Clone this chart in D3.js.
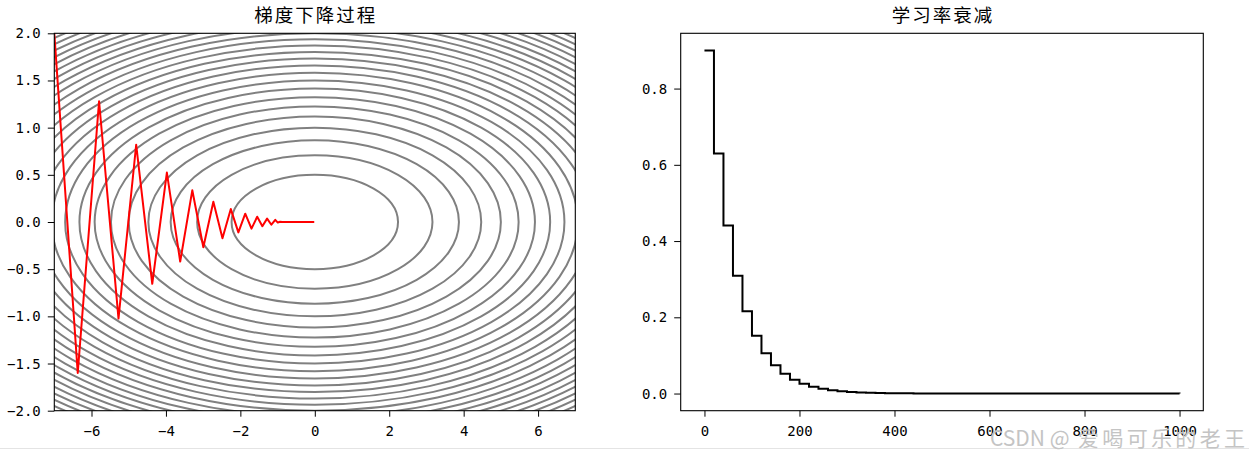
<!DOCTYPE html>
<html><head><meta charset="utf-8">
<script src="https://cdn.jsdelivr.net/npm/d3@7"></script>
<style>body{margin:0;background:#fff}</style></head>
<body><svg id="c" width="1249" height="460"></svg>
<script>
// ---- data ----
const titles = ["梯度下降过程", "学习率衰减"];
// contour levels of f(x,y) = 0.05*x^2 + 1*y^2
const contourLevels = [0.25,0.5,0.75,1.0,1.25,1.5,1.75,2.0,2.25,2.5,2.75,3.0,3.25,3.5,3.75,4.0,4.25,4.5,4.75,5.0,5.25,5.5,5.75,6.0,6.25];
const contourCoefX = 0.05, contourCoefY = 1;
const trajX = [-7,-6.37,-5.797,-5.275,-4.800,-4.368,-3.975,-3.617,-3.292,-2.995,-2.726,-2.481,-2.257,-2.054,-1.869,-1.701,-1.548,-1.409,-1.282,-1.167,-1.062,-0.995,-0.932,-0.873,-0.289,-0.117,-0.063,-0.040,-0.015];
const trajY = [2,-1.6,1.28,-1.024,0.819,-0.655,0.524,-0.419,0.336,-0.268,0.215,-0.172,0.137,-0.110,0.088,-0.070,0.056,-0.045,0.036,-0.029,0.023,-0.006,0.002,0,0,0,0,0,0];
const leftXTicks = [-6,-4,-2,0,2,4,6];
const leftYTicks = [-2,-1.5,-1,-0.5,0,0.5,1,1.5,2];
const lrSteps = [0,20,40,60,80,100,120,140,160,180,200,220,240,260,280,300,320,340,360,380,400,420,440,460,480,1000];
const lrValues = [0.9,0.63,0.441,0.3087,0.2161,0.1513,0.1059,0.0741,0.0519,0.0363,0.0254,0.0178,0.0125,0.0087,0.0061,0.0043,0.0030,0.0021,0.0015,0.0010,0.0007,0.0005,0.0004,0.0002,0.0002,0.0];
const rightXTicks = [0,200,400,600,800,1000];
const rightYTicks = [0,0.2,0.4,0.6,0.8];
const watermark = ["CSDN @", "爱喝可乐的老王"];

// ---- layout ----
const svg = d3.select("#c");
const L = {x0:54.3, x1:575.3, y0:33.3, y1:410.7};
const R = {x0:680.7, x1:1203.3, y0:33.3, y1:410.7};
const tickFont = "'DejaVu Sans Mono', monospace";
const cjkFont = "'Noto Sans CJK SC', sans-serif";

function styleAxis(g){
  g.select(".domain").remove();
  g.selectAll("line").attr("stroke","#000").attr("stroke-width",1);
  g.selectAll("text").attr("font-family",tickFont).attr("font-size",14).attr("fill","#000");
}
function frame(b){
  svg.append("rect").attr("x",b.x0).attr("y",b.y0).attr("width",b.x1-b.x0).attr("height",b.y1-b.y0)
    .attr("fill","none").attr("stroke","#000").attr("stroke-width",1.1);
}
function title(b,t){
  svg.append("text").attr("x",(b.x0+b.x1)/2+1).attr("y",22).attr("text-anchor","middle")
    .attr("font-family",cjkFont).attr("font-size",18.5).attr("letter-spacing",2).attr("fill","#000").text(t);
}

// ---- left chart ----
const xL = d3.scaleLinear().domain([-7,7]).range([L.x0,L.x1]);
const yL = d3.scaleLinear().domain([-2,2]).range([L.y1,L.y0]);
svg.append("clipPath").attr("id","clipL").append("rect")
  .attr("x",L.x0).attr("y",L.y0).attr("width",L.x1-L.x0).attr("height",L.y1-L.y0);
const gL = svg.append("g").attr("clip-path","url(#clipL)");
gL.selectAll("ellipse").data(contourLevels).join("ellipse")
  .attr("cx",xL(0)).attr("cy",yL(0))
  .attr("rx",d=>xL(Math.sqrt(d/contourCoefX))-xL(0))
  .attr("ry",d=>yL(0)-yL(Math.sqrt(d/contourCoefY)))
  .attr("fill","none").attr("stroke","#808080").attr("stroke-width",2);
const traj = trajX.map((x,i)=>[x,trajY[i]]);
gL.append("path").datum(traj)
  .attr("d",d3.line().x(d=>xL(d[0])).y(d=>yL(d[1])))
  .attr("fill","none").attr("stroke","#ff0000").attr("stroke-width",2).attr("stroke-linejoin","round");
svg.append("g").attr("transform",`translate(0,${L.y1})`)
  .call(d3.axisBottom(xL).tickValues(leftXTicks).tickSize(6).tickPadding(9).tickFormat(d3.format("d")))
  .call(styleAxis);
svg.append("g").attr("transform",`translate(${L.x0},0)`)
  .call(d3.axisLeft(yL).tickValues(leftYTicks).tickSize(6.5).tickPadding(7).tickFormat(d3.format(".1f")))
  .call(styleAxis);
frame(L); title(L,titles[0]);

// ---- right chart ----
const xR = d3.scaleLinear().domain([-50,1050]).range([R.x0,R.x1]);
const yR = d3.scaleLinear().domain([-0.045,0.945]).range([R.y1,R.y0]);
const lr = lrSteps.map((s,i)=>[s,lrValues[i]]);
svg.append("path").datum(lr)
  .attr("d",d3.line().curve(d3.curveStepAfter).x(d=>xR(d[0])).y(d=>yR(d[1])))
  .attr("fill","none").attr("stroke","#000").attr("stroke-width",2);
svg.append("g").attr("transform",`translate(0,${R.y1})`)
  .call(d3.axisBottom(xR).tickValues(rightXTicks).tickSize(6).tickPadding(9).tickFormat(d3.format("d")))
  .call(styleAxis);
svg.append("g").attr("transform",`translate(${R.x0},0)`)
  .call(d3.axisLeft(yR).tickValues(rightYTicks).tickSize(6.5).tickPadding(7).tickFormat(d3.format(".1f")))
  .call(styleAxis);
frame(R); title(R,titles[1]);

// ---- page bottom line & watermark ----
svg.append("line").attr("x1",0).attr("x2",1249).attr("y1",448.5).attr("y2",448.5)
  .attr("stroke","#e4e4e4").attr("stroke-width",1);
const wm = svg.append("text").attr("font-family",cjkFont).attr("font-size",21).attr("fill","#c4c4c4").attr("y",446);
wm.append("tspan").attr("x",990).text(watermark[0]);
wm.append("tspan").attr("x",1078).attr("textLength",167).attr("lengthAdjust","spacing").text(watermark[1]);
</script></body></html>
